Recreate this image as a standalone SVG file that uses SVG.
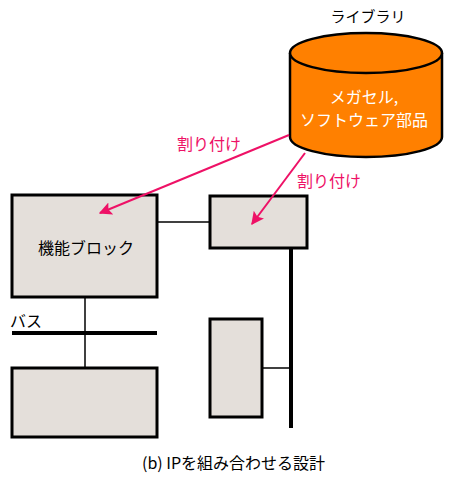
<svg xmlns="http://www.w3.org/2000/svg" width="450" height="484" viewBox="0 0 450 484">
<style>
.box{fill:#E4DFDA;stroke:#000;stroke-width:3}
.thin{stroke:#000;stroke-width:1.5;fill:none}
.thick{stroke:#000;stroke-width:4;fill:none}
.arr{stroke:#EE1166;stroke-width:2;fill:none;marker-end:url(#ah)}
.t{font-family:"Noto Sans CJK JP","Liberation Sans",sans-serif;fill:#000}
.w{font-family:"Noto Sans CJK JP","Liberation Sans",sans-serif;fill:#fff;font-size:16px}
.lbl{font-family:"Noto Sans CJK JP","Liberation Sans",sans-serif;fill:#EE1166;font-size:16px}
</style>
<defs>
<marker id="ah" viewBox="0 0 10 10" refX="9" refY="5" markerWidth="13" markerHeight="13" markerUnits="userSpaceOnUse" orient="auto">
<path d="M0,0 L10,5 L0,10 L2,5 z" fill="#EE1166"/>
</marker>
</defs>
<g id="connectors">
<line class="thin" x1="157" y1="222" x2="210" y2="222"/>
<line class="thin" x1="85" y1="297" x2="85" y2="368"/>
<line class="thick" x1="12" y1="333" x2="157" y2="333"/>
<line class="thick" x1="291" y1="248" x2="291" y2="428"/>
<line class="thin" x1="262" y1="368" x2="291" y2="368"/>
</g>
<g id="library">
<path d="M290,53 L290,137 A76,20 0 0 0 442,137 L442,53" fill="#FF8000" stroke="#000" stroke-width="2.5"/>
<ellipse cx="366" cy="53" rx="76" ry="20" fill="#FF8000" stroke="#000" stroke-width="2.5"/>
<text class="t" x="368" y="22" font-size="15" text-anchor="middle">ライブラリ</text>
<text class="w" x="364" y="103" text-anchor="middle">メガセル,</text>
<text class="w" x="364" y="126" text-anchor="middle">ソフトウェア部品</text>
</g>
<g id="label1"><text class="lbl" x="177" y="150">割り付け</text></g>
<g id="label2"><text class="lbl" x="297" y="187">割り付け</text></g>
<g id="block1">
<rect class="box" x="12" y="195" width="145" height="102"/>
<text class="t" x="38" y="254" font-size="16">機能ブロック</text>
</g>
<g id="block2"><rect class="box" x="210" y="196" width="97" height="52"/></g>
<g id="bus"><text class="t" x="10" y="327" font-size="16">バス</text></g>
<g id="block3"><rect class="box" x="12" y="368" width="145" height="69"/></g>
<g id="block4"><rect class="box" x="210" y="319" width="52" height="98"/></g>
<g id="arrows">
<line class="arr" x1="289" y1="135" x2="100" y2="213"/>
<line class="arr" x1="305" y1="153" x2="252" y2="224"/>
</g>
<g id="caption"><text class="t" x="142" y="469" font-size="16">(b) IPを組み合わせる設計</text></g>
</svg>
